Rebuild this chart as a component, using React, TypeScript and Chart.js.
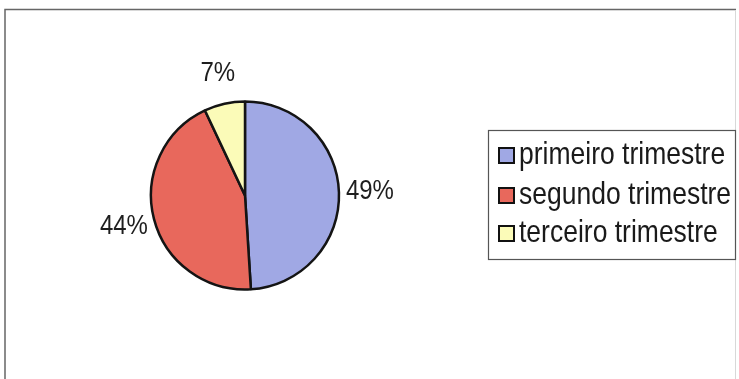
import React, { useEffect, useRef } from "react";
import { Chart, registerables } from "chart.js";
Chart.register(...registerables);

const categories = ["primeiro trimestre", "segundo trimestre", "terceiro trimestre"];
const values = [49, 44, 7];
const percentLabels = ["49%", "44%", "7%"];
const colors = ["#a0a8e4", "#e8685c", "#fbfbb8"];

const FONT = "'Liberation Sans', Arial, sans-serif";
const STRETCH = 1.15;

function stretchedText(ctx: CanvasRenderingContext2D, text: string, x: number, y: number) {
  ctx.save();
  ctx.translate(x, y);
  ctx.scale(1, STRETCH);
  ctx.fillText(text, 0, 0);
  ctx.restore();
}

const framePlugin = {
  id: "frame",
  beforeDraw(chart: any) {
    const ctx = chart.ctx;
    ctx.save();
    ctx.fillStyle = "#ffffff";
    ctx.fillRect(0, 0, chart.width, chart.height);
    ctx.strokeStyle = "#666666";
    ctx.lineWidth = 1.5;
    ctx.beginPath();
    ctx.moveTo(5, chart.height);
    ctx.lineTo(5, 9.5);
    ctx.lineTo(736, 9.5);
    ctx.stroke();
    ctx.strokeStyle = "#d8d8d8";
    ctx.lineWidth = 1;
    ctx.beginPath();
    ctx.moveTo(735.5, 10);
    ctx.lineTo(735.5, chart.height);
    ctx.stroke();
    ctx.restore();
  },
};

const labelPlugin = {
  id: "pieLabels",
  afterDatasetsDraw(chart: any) {
    const ctx = chart.ctx;
    const meta = chart.getDatasetMeta(0);
    ctx.save();
    ctx.font = `24px ${FONT}`;
    ctx.fillStyle = "#1e1e1e";
    ctx.textAlign = "center";
    ctx.textBaseline = "middle";
    meta.data.forEach((arc: any, i: number) => {
      const p = arc.getProps(["x", "y", "startAngle", "endAngle", "outerRadius"], true);
      const mid = (p.startAngle + p.endAngle) / 2;
      const r = p.outerRadius + 31;
      stretchedText(ctx, percentLabels[i], p.x + Math.cos(mid) * r, p.y + Math.sin(mid) * r);
    });
    ctx.restore();
  },
};

const legendPlugin = {
  id: "boxLegend",
  afterDraw(chart: any) {
    const ctx = chart.ctx;
    const left = 488.5, top = 130.5, right = 735.5, bottom = 259.5;
    ctx.save();
    ctx.fillStyle = "#ffffff";
    ctx.fillRect(left, top, right - left, bottom - top);
    ctx.strokeStyle = "#555555";
    ctx.lineWidth = 1.2;
    ctx.strokeRect(left, top, right - left, bottom - top);
    const labels = chart.data.labels as string[];
    const bg = chart.data.datasets[0].backgroundColor as string[];
    const rowsY = [155, 195, 233];
    ctx.font = `26.5px ${FONT}`;
    ctx.textAlign = "left";
    ctx.textBaseline = "middle";
    labels.forEach((lab, i) => {
      const y = rowsY[i];
      ctx.fillStyle = bg[i];
      ctx.fillRect(499, y - 7, 15, 15);
      ctx.strokeStyle = "#111111";
      ctx.lineWidth = 2;
      ctx.strokeRect(499, y - 7, 15, 15);
      ctx.fillStyle = "#1a1a1a";
      stretchedText(ctx, lab, 519, y + 1);
    });
    ctx.restore();
  },
};

export default function App() {
  const ref = useRef<HTMLCanvasElement | null>(null);
  useEffect(() => {
    document.body.style.margin = "0";
    if (!ref.current) return;
    const chart = new Chart(ref.current, {
      type: "pie",
      data: {
        labels: categories,
        datasets: [
          {
            data: values,
            backgroundColor: colors,
            borderColor: "#141414",
            borderWidth: 2.5,
            radius: 94,
          } as any,
        ],
      },
      options: {
        responsive: false,
        animation: false,
        layout: { padding: { left: 10, right: 259, top: 20, bottom: 8 } },
        plugins: {
          legend: { display: false },
          tooltip: { enabled: false },
        },
      },
      plugins: [framePlugin, labelPlugin, legendPlugin],
    });
    return () => chart.destroy();
  }, []);
  return (
    <div style={{ width: 739, height: 379 }}>
      <canvas ref={ref} width={739} height={379} style={{ display: "block" }} />
    </div>
  );
}
